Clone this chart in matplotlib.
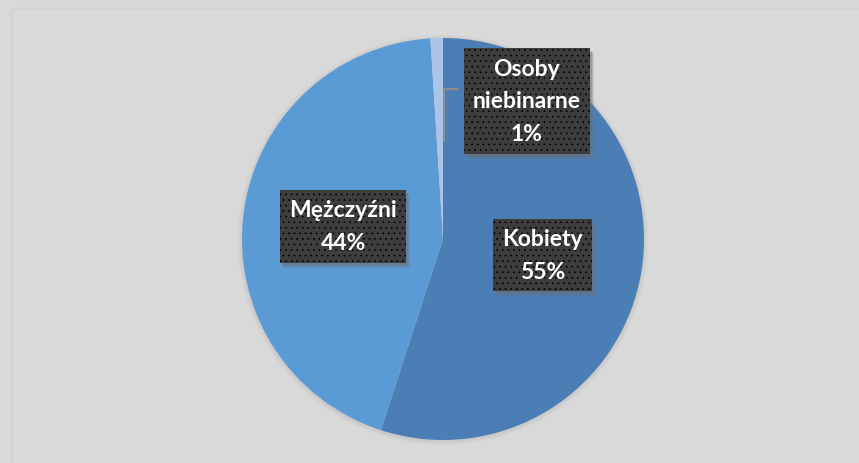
import numpy as np
import matplotlib
matplotlib.use('Agg')
from matplotlib import pyplot as plt
from matplotlib.patches import Rectangle, Circle

# Data
categories = ['Kobiety', 'Mężczyźni', 'Osoby\nniebinarne']
shares = [55, 44, 1]
slice_colors = ['#4a7eb5', '#5b9bd5', '#abc5e8']

W, H = 859, 464
plt.rcParams['hatch.color'] = '#515151'
plt.rcParams['hatch.linewidth'] = 0.5

fig = plt.figure(figsize=(W / 100, H / 100), dpi=100, facecolor='#d9d9d9')
ax = fig.add_axes([0, 0, 1, 1])
ax.set_facecolor('#d9d9d9')

# thin chart-area frame
fig.patches.append(Rectangle((11.5 / W, -0.1), 1.2, (H - 9.5) / H + 0.1,
                             transform=fig.transFigure, fill=False,
                             ec='#cfd2d8', lw=1.5))

cx, cy, R = 443, H - 240, 201

# faint soft shadow around the pie
for k in range(1, 5):
    ax.add_patch(Circle((cx, cy - 1), R + k, fc='#a8a8a8', alpha=0.08,
                        lw=0, zorder=0))

wedges, _ = ax.pie(shares, colors=slice_colors, startangle=90,
                   counterclock=False, radius=R, center=(cx, cy),
                   wedgeprops=dict(linewidth=0))
ax.set_xlim(0, W)
ax.set_ylim(0, H)
ax.set_aspect('equal')
ax.axis('off')

labels = []


def label(x, y, txt):
    t = ax.text(x, y, txt, color='white', zorder=5, ha='center', va='center',
                fontsize=16.5, fontweight='bold',
                family=['Lato', 'DejaVu Sans'], linespacing=1.7,
                bbox=dict(boxstyle='square,pad=0.4', fc='#3d3d3d',
                          hatch='...', lw=0))
    labels.append(t)


for w, name, v in zip(wedges, categories, shares):
    mid = np.deg2rad((w.theta1 + w.theta2) / 2)
    txt = '%s\n%d%%' % (name, v)
    if v < 5:
        # small slice: label moved out with a leader line
        lx, ly = cx + 84, H - 102
        ex, ey = cx + 1, H - 142
        ax.plot([ex, ex, lx - 69], [ey, H - 90, H - 90], color='#8c8c8c',
                lw=1.5, zorder=3)
        label(lx, ly, txt)
    else:
        d = 0.5 * R
        label(cx + d * np.cos(mid), cy + d * np.sin(mid), txt)

# drop shadows behind the label boxes
fig.canvas.draw()
for t in labels:
    bb = t.get_bbox_patch().get_window_extent()
    for k, a in [(5, 0.15), (4, 0.25), (3, 0.35)]:
        ax.add_patch(Rectangle((bb.x0 + k - 1, bb.y0 - k), bb.width, bb.height,
                               transform=None, fc='#6f6f6f', alpha=a,
                               lw=0, zorder=4))

fig.savefig('out.png', dpi=100, facecolor=fig.get_facecolor())
